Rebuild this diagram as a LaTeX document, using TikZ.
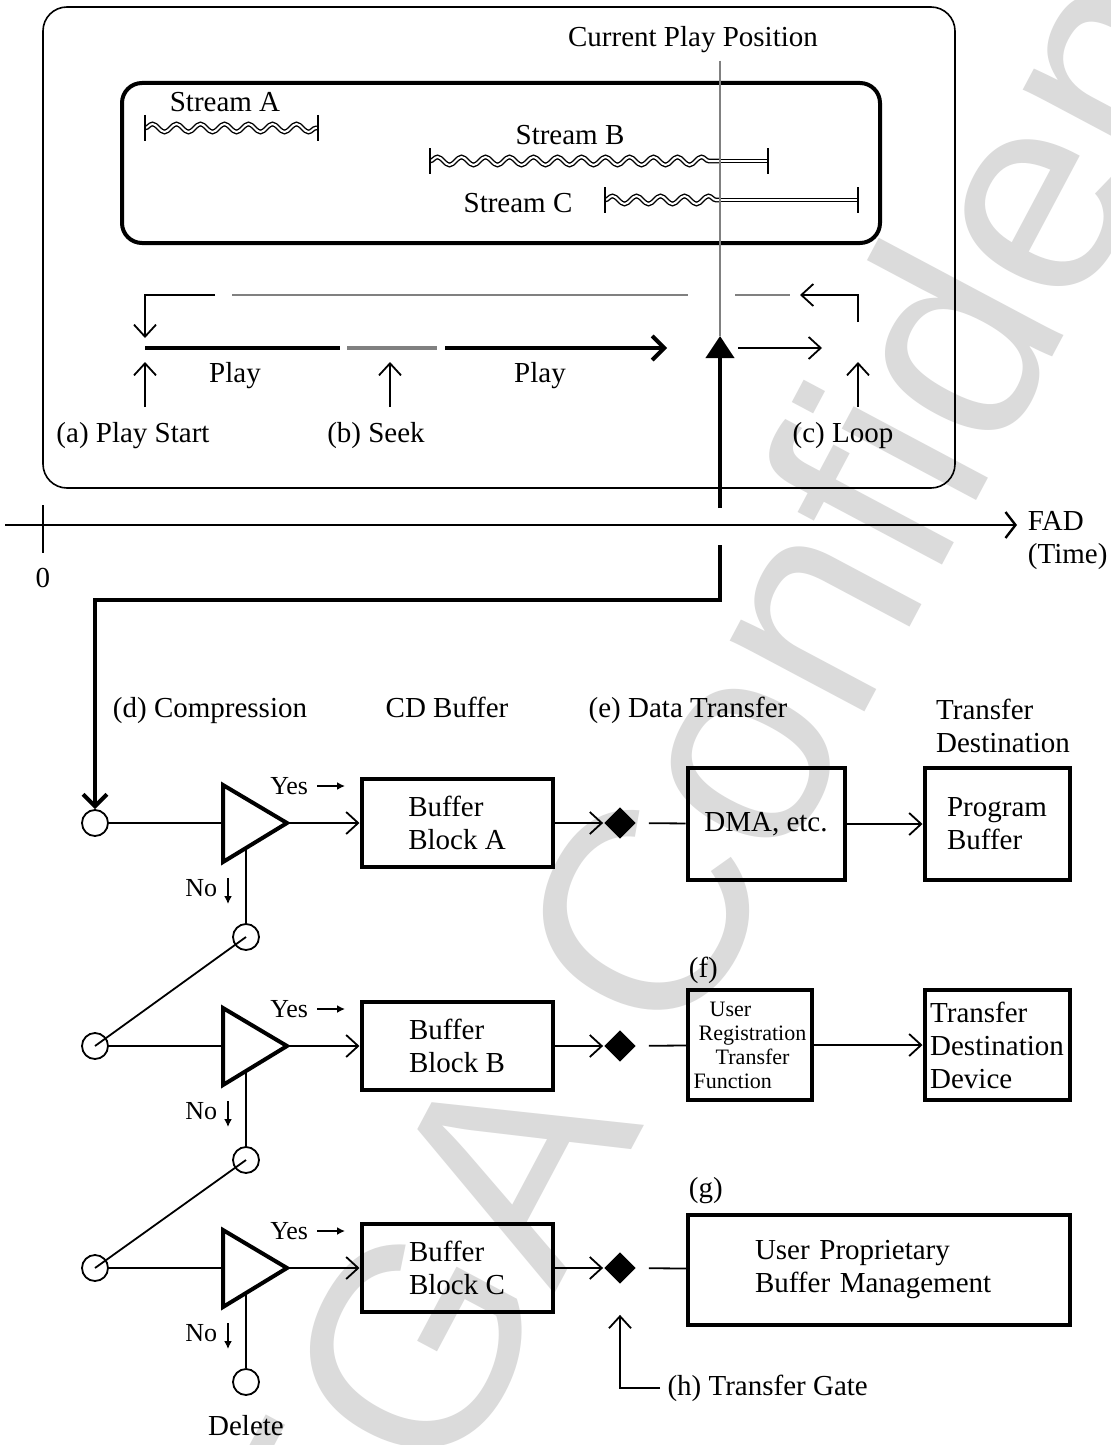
\documentclass[tikz,border=0pt]{standalone}
\usepackage{fontspec}
\setmainfont{Liberation Serif}
\newfontfamily\wmfont{Liberation Sans}
\usetikzlibrary{positioning,arrows.meta,decorations.pathmorphing,shapes.geometric}

\begin{document}
\begin{tikzpicture}[x=0.5pt, y=-0.5pt,
  font=\fontsize{14.5}{16.5}\selectfont,
  line width=0.9pt,
  lbl/.style={text height=10pt, text depth=3pt},
  rbox/.style={draw, line width=0.8pt, rounded corners=12pt},
  blk/.style={draw, line width=2pt, align=left, inner sep=0pt},
  port/.style={draw, circle, line width=0.9pt, minimum size=13pt, inner sep=0pt},
  gate/.style={diamond, fill=black, minimum size=16pt, inner sep=0pt},
  amp/.style={draw, line width=2pt, line join=miter},
  arr/.style={-{Straight Barb[length=6pt, width=11pt]}},
  bigarr/.style={line width=2pt, -{Straight Barb[length=6pt, width=12pt]}},
  smallarr/.style={-{Latex[length=4pt, width=4pt]}},
  wave/.style={decorate, decoration={snake, segment length=12pt, amplitude=2pt}, double, double distance=1pt, line width=0.7pt},
  dbl/.style={double, double distance=1pt, line width=0.7pt},
  sm/.style={font=\fontsize{13}{15}\selectfont, inner sep=1pt},
  playpos/.style={draw=gray, line width=1pt}]

\useasboundingbox (0,0) rectangle (1111,1445);
\fill[white] (0,0) rectangle (1111,1445);

% watermark
\node[rotate=62, text=black!14, font={\wmfont\fontsize{144}{150}\selectfont}] (wm) at (742,723) {SEGA Confidential};

% timeline of streams
\draw[rbox] (43,7) rectangle (955,488);
\draw[rbox, line width=2pt, rounded corners=10pt] (122,83) rectangle (880,243);
\foreach \s/\a/\b/\y/\lx/\ly in {A/145/318/128/225/105, B/430/768/161/570/138, C/605/858/200/518/205} {
  \node[lbl] (lbl\s) at (\lx,\ly) {Stream \s};
  \pgfmathsetmacro\m{min(\b,720)}
  \draw[wave] (\a,\y) -- (\m,\y);
  \draw[dbl] (\m,\y) -- (\b,\y);
  \draw (\a,\y-13) -- (\a,\y+13) (\b,\y-13) -- (\b,\y+13);
}
\node[lbl] (cpp) at (693,40) {Current Play Position};
\coordinate (tip) at (720,336);
\draw[playpos] (cpp.south -| tip) -- (tip);

% play, seek, loop
\coordinate (start) at (145,348);
\coordinate (seek) at (390,348);
\coordinate (loop) at (858,348);
\draw[arr] (215,295) -| ([yshift=5pt]start);
\draw[gray, line width=1.2pt] (232,295) -- (688,295) (735,295) -- (790,295);
\draw[arr] (858,322) |- (800,295);
\draw[line width=2pt] (start) -- (340,348);
\draw[gray, line width=2pt] (347,348) -- (437,348);
\draw[bigarr] (445,348) -- (667,348);
\draw[arr] (738,348) -- (822,348);
\foreach \p in {start,seek,loop} \draw[arr] ([yshift=-29.5pt]\p) -- ([yshift=-7pt]\p);
\node[lbl] (play1) at (235,375) {Play};
\node[lbl] (play2) at (540,375) {Play};
\node[lbl] (pa) at (133,435) {(a) Play Start};
\node[lbl] (pb) at (376,435) {(b) Seek};
\node[lbl] (pc) at (843,435) {(c) Loop};
\draw[line width=2pt, -{Triangle[length=11pt, width=14pt]}] (720,508) -- (tip);

% FAD axis
\draw[line width=1.2pt, -{Straight Barb[length=5pt, width=13pt]}] (5,525) -- (1017,525);
\draw (43,505) -- (43,553);
\node[lbl] (zero) at (43,580) {0};
\node[anchor=west, align=left, inner sep=0pt] (fad) at (1027,541) {FAD\\(Time)};

% column heads
\node[lbl] (dlbl) at (210,710) {(d) Compression};
\node[lbl] (cdlbl) at (447,710) {CD Buffer};
\node[lbl] (elbl) at (688,710) {(e) Data Transfer};
\node[align=left] (tdlbl) at (1003,726) {Transfer\\Destination};

% buffer rows
\foreach \r/\y in {A/823,B/1046,C/1268} {
  \node[port] (in\r) at (95,\y) {};
  \draw[amp] (223,\y-38) -- (223,\y+39) -- (287,\y) -- cycle;
  \coordinate (amp\r) at (287,\y);
  \node[blk, minimum width=95.5pt, minimum height=44pt] (buf\r) at (457,\y) {Buffer\\Block \r};
  \node[gate] (gate\r) at (620,\y) {};
  \node[port] (sw\r) at (246,\y+114) {};
  \draw (in\r) -- (223,\y);
  \draw[arr] (amp\r) -- (buf\r);
  \draw[arr] (buf\r) -- (gate\r);
  \draw (246,\y+25) -- (sw\r);
  \node[sm, anchor=east] (yes\r) at (311,\y-37) {Yes};
  \draw[smallarr] ([xshift=3pt]yes\r.east) -- ++(14pt,0);
  \node[sm, anchor=east] (no\r) at (220,\y+65) {No};
  \draw[smallarr] ([xshift=4pt, yshift=5pt]no\r.east) -- ++(0,-13pt);
}
\draw (inB.center) -- (swA.center);
\draw (inC.center) -- (swB.center);
\coordinate (pp) at (720,545);
\coordinate (bend) at (95,600);
\draw[bigarr] (pp) |- (bend) -- (inA.north);
\node[lbl] (del) at (246,1428) {Delete};

% transfer destinations
\node[blk, minimum width=78.5pt, minimum height=56pt] (dma) at (766,824) {DMA, etc.};
\node[blk, minimum width=72.5pt, minimum height=56pt] (prog) at (997,824) {Program\\Buffer};
\draw[shorten <=6pt] (gateA) -- (dma);
\draw[arr] (dma) -- (prog);

\node[anchor=south west, inner sep=0pt] (f) at (688,985) {(f)};
\node[blk, minimum width=62pt, minimum height=55pt, font=\fontsize{11}{12}\selectfont] (reg) at (750,1045) {\hspace*{8pt}User\\\hspace*{2.5pt}Registration\\\hspace*{11pt}Transfer\\Function};
\node[blk, minimum width=72.5pt, minimum height=55pt] (tdd) at (997,1045) {Transfer\\Destination\\Device};
\draw[shorten <=6pt] (gateB) -- (reg);
\draw[arr] (reg) -- (tdd);

\node[anchor=south west, inner sep=0pt] (g) at (688,1205) {(g)};
\node[blk, minimum width=191pt, minimum height=55pt, text width=124pt] (upbm) at (879,1270) {User Proprietary\\Buffer Management};
\draw[shorten <=6pt] (gateC) -- (upbm);
\node[lbl, anchor=west] (hgate) at (660,1388) {(h) Transfer Gate};
\draw[arr, shorten >=15pt] (hgate.west) -| (gateC.south);
\end{tikzpicture}
\end{document}
